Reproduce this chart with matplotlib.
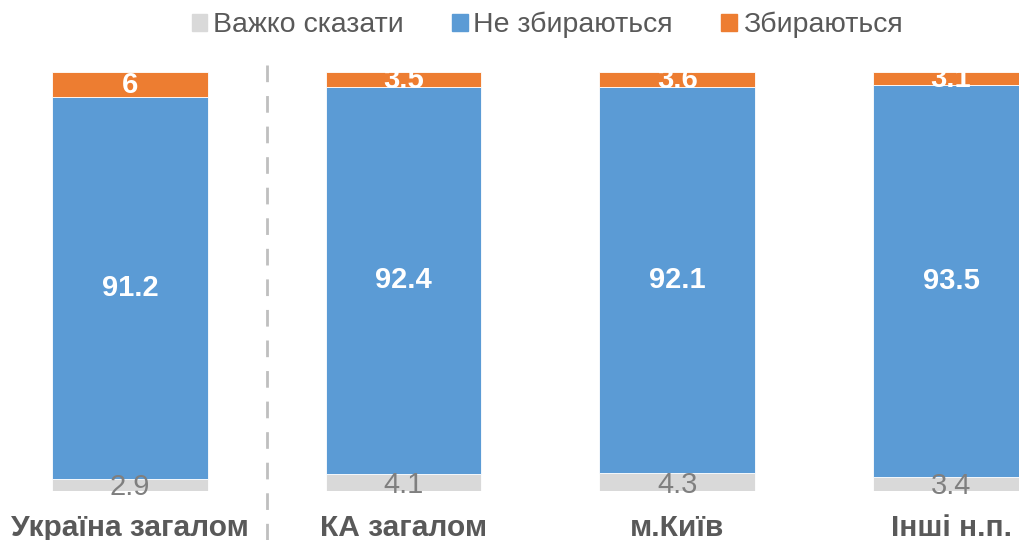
import matplotlib
matplotlib.use("Agg")
import matplotlib.pyplot as plt
from matplotlib.patches import Patch

categories = ["Україна загалом", "КА загалом", "м.Київ", "Інші н.п."]
hard_to_say = [2.9, 4.1, 4.3, 3.4]
not_going = [91.2, 92.4, 92.1, 93.5]
going = [6, 3.5, 3.6, 3.1]
series_names = ["Важко сказати", "Не збираються", "Збираються"]

GRAY = "#D9D9D9"
BLUE = "#5B9BD5"
ORANGE = "#ED7D31"
TEXT = "#595959"

plt.rcParams["font.family"] = ["Liberation Sans", "DejaVu Sans"]

W, H = 1019, 540
fig = plt.figure(figsize=(W / 100, H / 100), dpi=100)
# axes spans full width; bars clipped at right edge like the original
ax = fig.add_axes([0, 49 / H, 1, 419 / H])

x = list(range(len(categories)))
width = 0.569
bottom2 = [a + b for a, b in zip(hard_to_say, not_going)]
ax.bar(x, hard_to_say, width, color=GRAY, edgecolor="white", linewidth=0.6)
ax.bar(x, not_going, width, bottom=hard_to_say, color=BLUE, edgecolor="white", linewidth=0.6)
ax.bar(x, going, width, bottom=bottom2, color=ORANGE, edgecolor="white", linewidth=0.6)

for i in x:
    ax.text(i, hard_to_say[i] / 2 - 0.6, f"{hard_to_say[i]:g}", ha="center", va="center",
            fontsize=21, color="#7F7F7F")
    ax.text(i, hard_to_say[i] + not_going[i] / 2, f"{not_going[i]:g}", ha="center", va="center",
            fontsize=21, color="white", fontweight="bold")
    ax.text(i, bottom2[i] + going[i] / 2, f"{going[i]:g}", ha="center", va="center",
            fontsize=21, color="white", fontweight="bold")
    ax.text(i, -8.8, categories[i], ha="center", va="center", fontsize=21.5,
            color=TEXT, fontweight="bold", clip_on=False)

ax.set_xlim(-130 / 274, 3 + 68 / 274)
ax.set_ylim(0, 100.1)
ax.axis("off")

# dashed separator between Ukraine total and the rest
ax.axvline(0.5, ymin=-49 / 419, ymax=(491 - 62) / 419, color="#BFBFBF",
           linestyle=(0, (6, 5)), linewidth=2, clip_on=False)

handles = [Patch(color=c) for c in (GRAY, BLUE, ORANGE)]
fig.legend(handles, series_names, loc="center", bbox_to_anchor=(547 / W, 1 - 25 / H),
           ncol=3, frameon=False, fontsize=20.5, labelcolor=TEXT,
           handlelength=0.55, handleheight=0.55, handletextpad=0.2, columnspacing=1.7)

fig.savefig("out.png", dpi=100)
